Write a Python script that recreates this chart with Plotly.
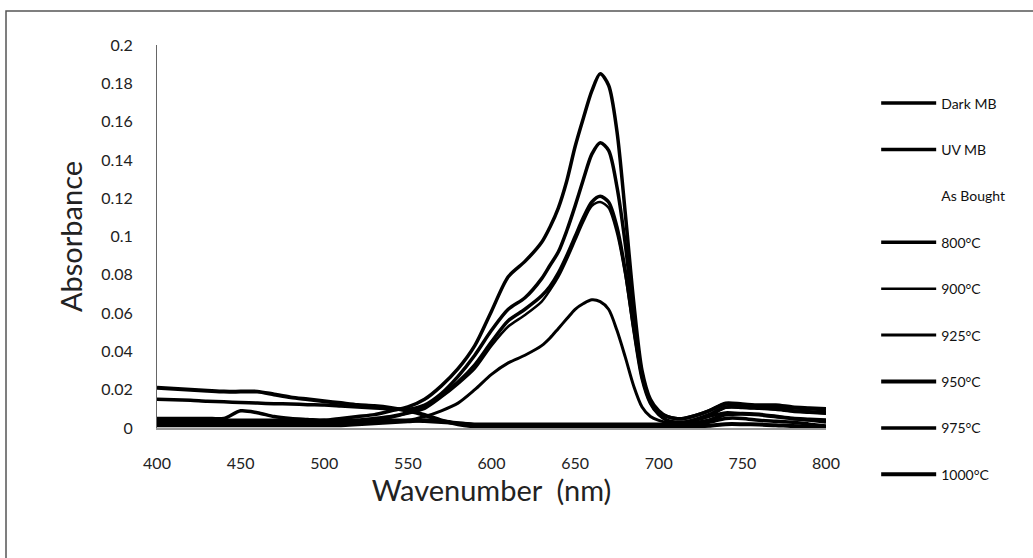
import plotly.graph_objects as go

wavelength = [400, 410, 420, 430, 440, 450, 460, 470, 480, 490, 500, 510, 520, 530, 540, 550,
              560, 570, 580, 590, 600, 610, 620, 630, 635, 640, 645, 650, 655, 660, 665, 670,
              675, 680, 685, 690, 695, 700, 705, 710, 715, 720, 730, 740, 750, 760, 770, 780,
              790, 800]

dark_mb = [0.004, 0.004, 0.004, 0.004, 0.004, 0.004, 0.004, 0.004, 0.004, 0.004, 0.004, 0.005,
           0.006, 0.007, 0.009, 0.011, 0.015, 0.022, 0.031, 0.043, 0.061, 0.079, 0.087, 0.097,
           0.105, 0.115, 0.129, 0.147, 0.162, 0.176, 0.185, 0.179, 0.155, 0.112, 0.066, 0.030,
           0.015, 0.009, 0.006, 0.005, 0.005, 0.006, 0.009, 0.013, 0.0125, 0.012, 0.012, 0.011,
           0.0105, 0.010]

uv_mb = [0.015, 0.0148, 0.0145, 0.014, 0.0137, 0.0133, 0.013, 0.0127, 0.0125, 0.0122, 0.012,
         0.0115, 0.011, 0.0105, 0.010, 0.0098, 0.012, 0.018, 0.027, 0.038, 0.051, 0.062, 0.068,
         0.078, 0.085, 0.092, 0.103, 0.116, 0.130, 0.143, 0.149, 0.145, 0.126, 0.096, 0.058,
         0.028, 0.014, 0.008, 0.006, 0.005, 0.005, 0.006, 0.009, 0.0125, 0.012, 0.0115, 0.011,
         0.0105, 0.010, 0.0095]

# "As Bought" shows no visible line in the reference
as_bought_x = [None]
as_bought = [None]

t800 = [0.003, 0.003, 0.003, 0.003, 0.003, 0.003, 0.003, 0.003, 0.003, 0.003, 0.003, 0.0035,
        0.004, 0.005, 0.006, 0.008, 0.011, 0.017, 0.024, 0.033, 0.045, 0.056, 0.062, 0.069,
        0.074, 0.081, 0.090, 0.100, 0.110, 0.118, 0.121, 0.118, 0.105, 0.082, 0.052, 0.026,
        0.013, 0.007, 0.004, 0.003, 0.003, 0.004, 0.007, 0.011, 0.011, 0.0105, 0.010, 0.009,
        0.0085, 0.008]

t900 = [0.0025, 0.0025, 0.0025, 0.0025, 0.0025, 0.0025, 0.0025, 0.0025, 0.0025, 0.0025, 0.0025,
        0.003, 0.0035, 0.0045, 0.0055, 0.0075, 0.010, 0.016, 0.023, 0.031, 0.043, 0.053, 0.059,
        0.066, 0.072, 0.079, 0.088, 0.098, 0.108, 0.116, 0.118, 0.115, 0.102, 0.080, 0.051,
        0.026, 0.013, 0.007, 0.004, 0.003, 0.003, 0.0035, 0.006, 0.0105, 0.0105, 0.010, 0.0095,
        0.0085, 0.008, 0.0075]

t925 = [0.002, 0.002, 0.002, 0.002, 0.002, 0.002, 0.002, 0.002, 0.002, 0.002, 0.002, 0.002,
        0.0025, 0.003, 0.0035, 0.004, 0.006, 0.009, 0.013, 0.020, 0.028, 0.034, 0.038, 0.043,
        0.047, 0.052, 0.057, 0.062, 0.065, 0.067, 0.066, 0.062, 0.051, 0.037, 0.022, 0.011,
        0.006, 0.004, 0.003, 0.003, 0.003, 0.004, 0.006, 0.008, 0.0075, 0.007, 0.006, 0.005,
        0.004, 0.003]

t950 = [0.021, 0.0205, 0.020, 0.0195, 0.019, 0.019, 0.019, 0.0175, 0.016, 0.015, 0.014, 0.013,
        0.012, 0.0115, 0.0105, 0.009, 0.0068, 0.004, 0.002, 0.0008, 0.0004, 0.0004, 0.0005,
        0.0007, 0.0008, 0.0009, 0.001, 0.001, 0.001, 0.001, 0.001, 0.0011, 0.0012, 0.0013,
        0.0014, 0.0015, 0.0015, 0.0015, 0.0016, 0.0018, 0.002, 0.0025, 0.004, 0.007, 0.0075,
        0.007, 0.006, 0.005, 0.0045, 0.004]

t975 = [0.005, 0.005, 0.005, 0.005, 0.005, 0.009, 0.008, 0.006, 0.005, 0.0045, 0.004, 0.004,
        0.004, 0.004, 0.004, 0.004, 0.0035, 0.003, 0.0025, 0.002, 0.002, 0.002, 0.002, 0.002,
        0.002, 0.002, 0.002, 0.002, 0.002, 0.002, 0.002, 0.002, 0.002, 0.002, 0.002, 0.002,
        0.002, 0.002, 0.002, 0.002, 0.002, 0.002, 0.003, 0.005, 0.005, 0.004, 0.0035, 0.003,
        0.002, 0.001]

t1000 = [0.0015, 0.0015, 0.0015, 0.0015, 0.0015, 0.0015, 0.0015, 0.0015, 0.0015, 0.0015, 0.0015,
         0.0015, 0.002, 0.0025, 0.003, 0.0035, 0.004, 0.0035, 0.0025, 0.0015, 0.001, 0.001,
         0.001, 0.001, 0.001, 0.001, 0.001, 0.001, 0.001, 0.001, 0.001, 0.001, 0.001, 0.001,
         0.001, 0.001, 0.001, 0.001, 0.001, 0.001, 0.001, 0.001, 0.0012, 0.002, 0.002, 0.0018,
         0.0015, 0.001, 0.0008, 0.0005]

series_names = ["Dark MB", "UV MB", "As Bought", "800°C", "900°C", "925°C", "950°C", "975°C", "1000°C"]
series_x = [wavelength, wavelength, as_bought_x, wavelength, wavelength, wavelength,
            wavelength, wavelength, wavelength]
series_values = [dark_mb, uv_mb, as_bought, t800, t900, t925, t950, t975, t1000]
series_widths = [3.5, 3.5, 0, 3.5, 2.5, 3, 4, 3.5, 4]

x_ticks = [400, 450, 500, 550, 600, 650, 700, 750, 800]
y_ticks = [0, 0.02, 0.04, 0.06, 0.08, 0.1, 0.12, 0.14, 0.16, 0.18, 0.2]
y_tick_text = ["0", "0.02", "0.04", "0.06", "0.08", "0.1", "0.12", "0.14", "0.16", "0.18", "0.2"]

fig = go.Figure()
for i, (name, xs, vals, w) in enumerate(zip(series_names, series_x, series_values, series_widths)):
    color = "black" if w > 0 else "rgba(0,0,0,0)"
    fig.add_trace(go.Scatter(
        x=xs, y=vals, name=name, mode="lines",
        line=dict(color=color, width=w if w > 0 else 1, shape="spline", smoothing=0.8),
        legendgroup=f"g{i}",
    ))

font_family = "Lato, 'Open Sans', sans-serif"
fig.update_layout(
    width=1033, height=558,
    margin=dict(l=157, r=207, t=45, b=130, autoexpand=False),
    paper_bgcolor="white", plot_bgcolor="white",
    font=dict(family=font_family, color="#222"),
    showlegend=True,
    legend=dict(
        x=1.075, xanchor="left", y=0.889, yanchor="top",
        font=dict(size=14, color="#111"),
        tracegroupgap=25.2, bgcolor="rgba(0,0,0,0)",
        itemwidth=55, maxheight=520,
    ),
    xaxis=dict(
        range=[400, 800], tickvals=x_ticks, showgrid=False, zeroline=False,
        showline=True, linecolor="#9a9a9a", linewidth=1.5,
        tickfont=dict(size=16, color="#222"), ticks="",
        ticklabelstandoff=20,
        title=dict(text="Wavenumber  (nm)", font=dict(size=29, color="#222"), standoff=10),
    ),
    yaxis=dict(
        range=[0, 0.2], tickvals=y_ticks, ticktext=y_tick_text, showgrid=False, zeroline=False,
        showline=True, linecolor="#666", linewidth=1,
        tickfont=dict(size=16, color="#222"), ticks="",
        ticklabelstandoff=20,
        title=dict(text="Absorbance", font=dict(size=29, color="#222"), standoff=10),
    ),
    shapes=[dict(type="rect", xref="paper", yref="paper",
                 x0=-0.2257, x1=1.35, y0=-0.4, y1=1.0888,
                 line=dict(color="#555", width=1.5), fillcolor="rgba(0,0,0,0)", layer="below")],
)

fig.write_html("out.html")
